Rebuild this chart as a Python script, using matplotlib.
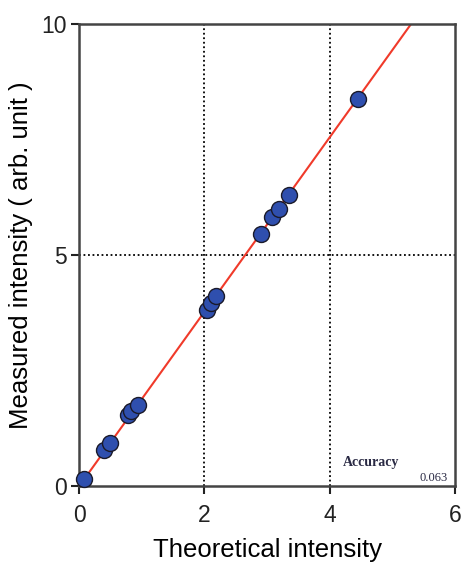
import matplotlib
matplotlib.use("Agg")
import matplotlib.pyplot as plt
import numpy as np

theoretical = [0.08, 0.40, 0.49, 0.78, 0.83, 0.94, 2.04, 2.10, 2.18, 2.90, 3.08, 3.19, 3.35, 4.45]
measured = [0.15, 0.78, 0.93, 1.54, 1.62, 1.76, 3.81, 3.96, 4.11, 5.45, 5.82, 6.00, 6.30, 8.37]
fit_slope = 1.887
x_ticks = [0, 2, 4, 6]
y_ticks = [0, 5, 10]

plt.rcParams['font.family'] = ['Liberation Sans', 'DejaVu Sans']
fig = plt.figure(figsize=(4.63, 5.66), dpi=100)
ax = fig.add_axes([0.171, 0.141, 0.812, 0.817])

ax.set_xlim(0, 6)
ax.set_ylim(0, 10)
for v in [2, 4]:
    ax.axvline(v, color='black', linestyle=(0, (1, 1.5)), linewidth=1.3, zorder=1)
ax.axhline(5, color='black', linestyle=(0, (1, 1.5)), linewidth=1.3, zorder=1)

xl = np.array([0, 10 / fit_slope])
ax.plot(xl, fit_slope * xl, color='#f03a2a', linewidth=1.5, zorder=2)
ax.plot(theoretical, measured, 'o', markersize=11.5, markerfacecolor='#2f4fae',
        markeredgecolor='#1a1a2a', markeredgewidth=1.0, zorder=3, clip_on=False)

ax.set_xticks(x_ticks)
ax.set_yticks(y_ticks)
ax.tick_params(direction='out', length=6, width=1.5, labelsize=16.5, colors='#222222')
ax.tick_params(axis='x', pad=7)
ax.tick_params(axis='y', pad=3)
for s in ax.spines.values():
    s.set_linewidth(1.8)
    s.set_color('#444444')
ax.set_xlabel('Theoretical intensity', fontsize=18.5, labelpad=8)
ax.set_ylabel('Measured intensity ( arb. unit )', fontsize=18.5, labelpad=6)

ax.text(4.21, 0.52, 'Accuracy', fontsize=10, family='Liberation Serif', weight='bold',
        color='#2a2a44', ha='left', va='center')
ax.text(5.88, 0.17, '0.063', fontsize=9, family='Liberation Serif',
        color='#2a2a44', ha='right', va='center')

fig.savefig('out.png', dpi=100)
